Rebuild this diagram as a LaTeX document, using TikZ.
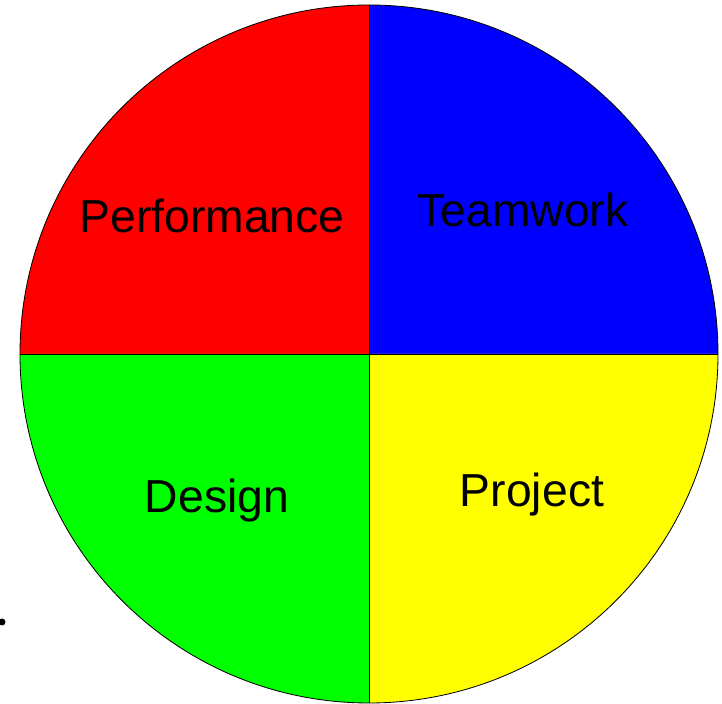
\documentclass[tikz,border=0pt]{standalone}
\usepackage{fontspec}
\setmainfont{Liberation Sans}
\begin{document}
\begin{tikzpicture}[x=0.03cm,y=0.03cm, line width=0.7pt]
    \definecolor{perfcolor}{RGB}{255,0,0}
    \definecolor{teamcolor}{RGB}{0,0,255}
    \definecolor{designcolor}{RGB}{0,255,0}
    \definecolor{projcolor}{RGB}{255,255,0}
    \tikzset{quarter/.style={font=\fontsize{39.5}{42}\selectfont, inner sep=0pt}}

    \useasboundingbox (0,0) rectangle (722,704);
    \coordinate (centre) at (369,350);

    % the four quarters
    \fill[fill=perfcolor] (centre) -- ++(0,349) arc (90:180:349) -- cycle;
    \fill[fill=teamcolor] (centre) -- ++(349,0) arc (0:90:349) -- cycle;
    \fill[fill=designcolor] (centre) -- ++(-349,0) arc (180:270:349) -- cycle;
    \fill[fill=projcolor] (centre) -- ++(0,-349) arc (270:360:349) -- cycle;

    \draw (centre) circle (349);
    \draw (20,350) -- (718,350);
    \draw (369,1) -- (369,699);

    \node[quarter] (perf) at (212,488) {Performance};
    \node[quarter] (team) at (523,494) {Teamwork};
    \node[quarter] (design) at (217,203) {Design};
    \node[quarter] (proj) at (532,209) {Project};

    \fill[black] (2,82) circle (3.5);
\end{tikzpicture}
\end{document}
